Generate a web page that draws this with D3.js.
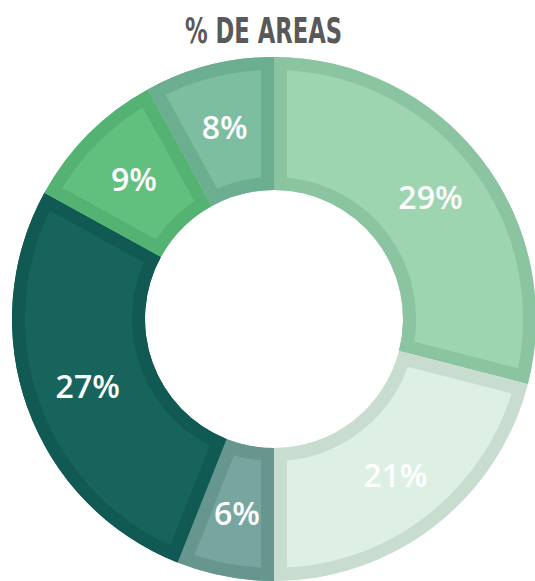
<!DOCTYPE html>
<html>
<head>
<meta charset="utf-8">
<script src="https://cdn.jsdelivr.net/npm/d3@7/dist/d3.min.js"></script>
<style>
  html, body { margin: 0; padding: 0; background: #fff; }
  svg { display: block; }
</style>
</head>
<body>
<svg id="chart" width="535" height="581"></svg>
<script>
// Share of each area, in percent, clockwise from 12 o'clock
const shares = [29, 21, 6, 27, 9, 8];
const sliceLabels = ["29%", "21%", "6%", "27%", "9%", "8%"];
const fills   = ["#9dd5b0", "#ddf0e3", "#77a6a0", "#17645c", "#62c07f", "#7cbe9f"];
const borders = ["#8bc4a0", "#c8ddd0", "#67968f", "#115a53", "#54b272", "#6cae90"];
const title = "% DE AREAS";

const svg = d3.select("#chart");
const cx = 274, cy = 319;
const rOuter = 262, rInner = 129;
const borderW = 13;

const pie = d3.pie().sort(null).value(d => d)(shares);
const arc = d3.arc().innerRadius(rInner).outerRadius(rOuter);
const labelArc = d3.arc().innerRadius(198).outerRadius(198);

const defs = svg.append("defs");
const g = svg.append("g").attr("transform", `translate(${cx},${cy})`);

pie.forEach((p, i) => {
  defs.append("clipPath").attr("id", "clip" + i)
    .append("path").attr("d", arc(p));
});

const slices = g.selectAll("g.slice").data(pie).join("g").attr("class", "slice");

// fill, then a border kept inside each slice's own outline
slices.append("path")
  .attr("d", arc)
  .attr("fill", (d, i) => fills[i]);
slices.append("path")
  .attr("d", arc)
  .attr("fill", "none")
  .attr("stroke", (d, i) => borders[i])
  .attr("stroke-width", borderW * 2)
  .attr("stroke-linejoin", "miter")
  .attr("clip-path", (d, i) => `url(#clip${i})`);

slices.append("text")
  .attr("transform", d => `translate(${labelArc.centroid(d)})`)
  .attr("text-anchor", "middle")
  .attr("dy", "0.36em")
  .attr("fill", "#ffffff")
  .style("font-family", "'Open Sans', 'Noto Sans', sans-serif")
  .style("font-weight", 600)
  .style("font-size", "32px")
  .text((d, i) => sliceLabels[i]);

svg.append("text")
  .attr("x", 263.5)
  .attr("y", 43)
  .attr("text-anchor", "middle")
  .attr("textLength", 157)
  .attr("lengthAdjust", "spacingAndGlyphs")
  .attr("fill", "#595959")
  .style("font-family", "'DejaVu Sans Condensed', 'DejaVu Sans', sans-serif")
  .style("font-weight", 700)
  .style("font-size", "36px")
  .text(title);
</script>
</body>
</html>
